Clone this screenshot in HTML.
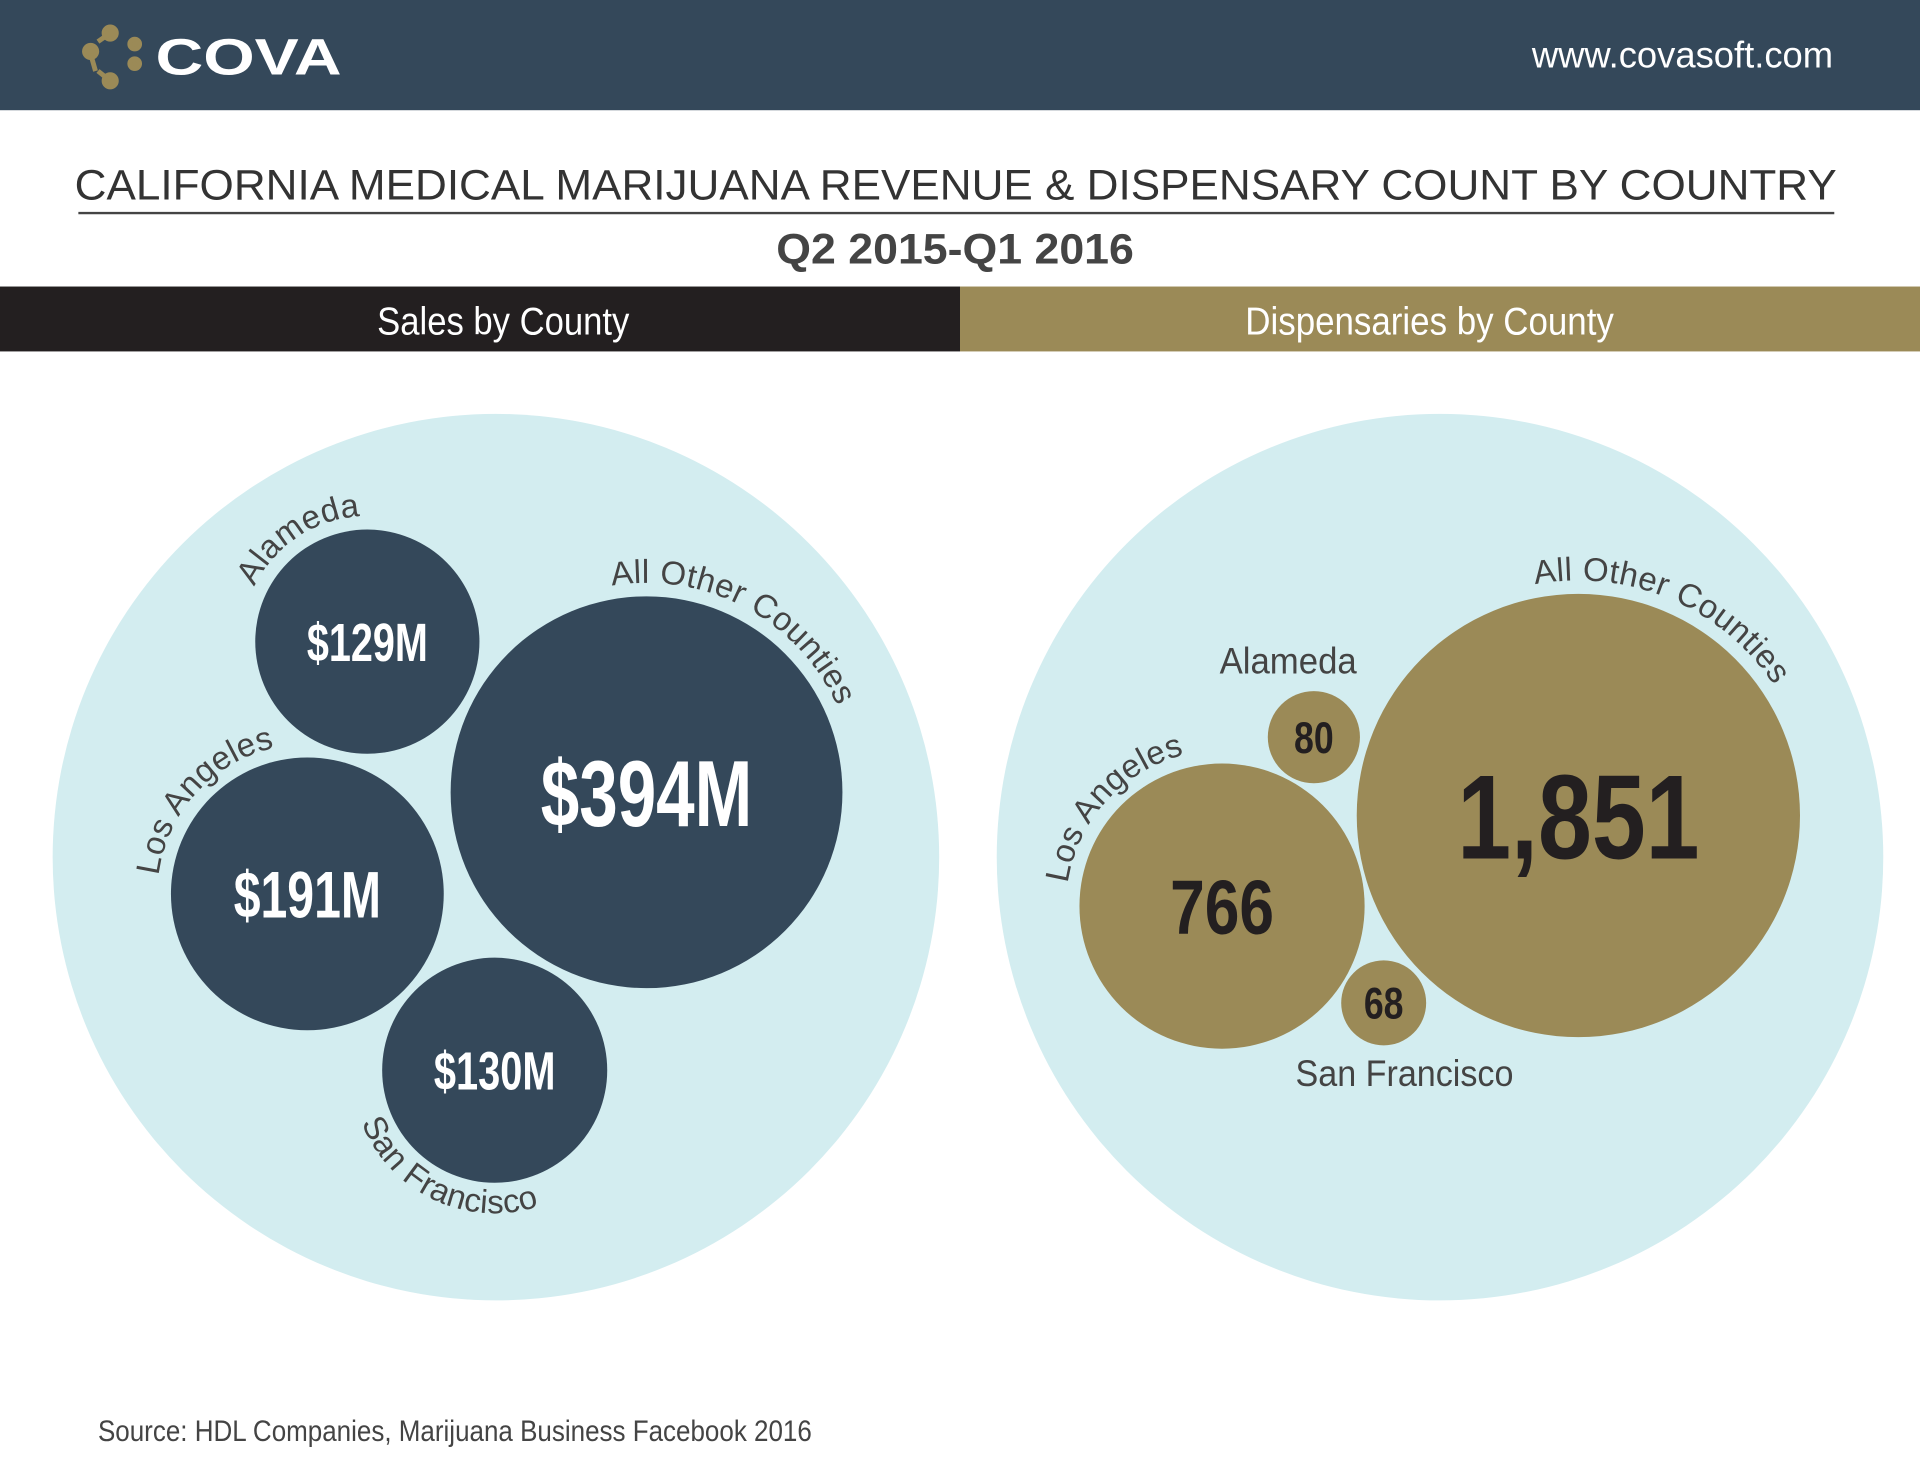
<!DOCTYPE html>
<html><head><meta charset="utf-8"><style>
html,body{margin:0;padding:0;background:#fff;width:1920px;height:1484px;overflow:hidden}
#wrap{width:1568px;height:1212px;transform:scale(1.22449);transform-origin:0 0;position:relative}
svg text{font-family:"Liberation Sans",sans-serif}
</style></head><body>
<div id="wrap">
<svg id="chart" width="1568" height="1212" viewBox="0 0 1568 1212">
  <rect x="0" y="0" width="1568" height="90" fill="#34485a"/>
  <g>
    <g fill="#9b8a57" stroke="#9b8a57" stroke-width="4">
      <circle cx="90" cy="27" r="5"/><circle cx="74" cy="42" r="5"/><circle cx="90" cy="66" r="5"/><circle cx="110" cy="36" r="4"/><circle cx="110" cy="52" r="4"/>
      <line x1="90" y1="27" x2="80" y2="34"/><line x1="74" y1="44" x2="78" y2="58"/><line x1="80" y1="58" x2="90" y2="66"/>
    </g>
    <text x="127" y="61" font-size="42" font-weight="bold" fill="#fff" textLength="152" lengthAdjust="spacingAndGlyphs">COVA</text>
  </g>
  <text x="1251" y="55" font-size="30" fill="#fff" textLength="246" lengthAdjust="spacingAndGlyphs">www.covasoft.com</text>
  <text x="61" y="163" font-size="35" fill="#333" textLength="1439" lengthAdjust="spacingAndGlyphs">CALIFORNIA MEDICAL MARIJUANA REVENUE &amp; DISPENSARY COUNT BY COUNTRY</text>
  <line x1="64" y1="174" x2="1498" y2="174" stroke="#444" stroke-width="2"/>
  <text x="634" y="215" font-size="35" font-weight="bold" fill="#444" textLength="292" lengthAdjust="spacingAndGlyphs">Q2 2015-Q1 2016</text>
  <rect x="0" y="234" width="784" height="53" fill="#231f20"/>
  <rect x="784" y="234" width="784" height="53" fill="#9b8a57"/>
  <text x="308" y="273" font-size="32" fill="#fff" textLength="206" lengthAdjust="spacingAndGlyphs">Sales by County</text>
  <text x="1017" y="273" font-size="32" fill="#fff" textLength="301" lengthAdjust="spacingAndGlyphs">Dispensaries by County</text>
  <circle cx="405" cy="700" r="362" fill="#d3edf0"/>
  <circle cx="1176" cy="700" r="362" fill="#d3edf0"/>
  <g id="bubbles"></g>
  <text x="80" y="1177" font-size="24" fill="#444" textLength="583" lengthAdjust="spacingAndGlyphs">Source: HDL Companies, Marijuana Business Facebook 2016</text>
</svg>
</div>
<script>
var counties = ["Alameda", "All Other Counties", "Los Angeles", "San Francisco"];
var salesValues = [129, 394, 191, 130];
var salesLabels = ["$129M", "$394M", "$191M", "$130M"];
var dispValues = [80, 1851, 766, 68];
var dispLabels = ["80", "1,851", "766", "68"];

var NS = "http://www.w3.org/2000/svg";
var g = document.getElementById("bubbles");
function rSales(v){ return 8.06 * Math.sqrt(v); }
function rDisp(v){ return 4.207 * Math.sqrt(v); }
var salesCenters = [[300,524],[528,647],[251,730],[404,874]];
var dispCenters = [[1073,602],[1289,666],[998,740],[1130,819]];
var salesLabelAng = [-154, -99.5, -173, 158.5];
var salesLabelDir = [1, 1, 1, -1];
var dispLabelAng = [null, -100.6, -171.6, null];
var pathId = 0;

function arcLabel(cx, cy, R, ang, dir, txt, name){
  var a = ang * Math.PI / 180;
  var x1 = cx + R * Math.cos(a), y1 = cy + R * Math.sin(a);
  var a2 = a + dir * 0.999 * Math.PI;
  var x2 = cx + R * Math.cos(a2), y2 = cy + R * Math.sin(a2);
  var p = document.createElementNS(NS, "path");
  var id = "arc" + (pathId++);
  p.setAttribute("id", id);
  p.setAttribute("d", "M" + x1 + "," + y1 + " A" + R + "," + R + " 0 0 " + (dir > 0 ? 1 : 0) + " " + x2 + "," + y2);
  p.setAttribute("fill", "none");
  g.appendChild(p);
  var t = document.createElementNS(NS, "text");
  
  
  t.setAttribute("font-size", "27");
  t.setAttribute("fill", "#444");
  t.setAttribute("letter-spacing", "0.3");
  var tp = document.createElementNS(NS, "textPath");
  tp.setAttribute("href", "#" + id);
  tp.textContent = txt;
  t.appendChild(tp);
  g.appendChild(t);
}
function plainLabel(x, y, txt, w, name){
  var t = document.createElementNS(NS, "text");
  
  
  t.setAttribute("x", x - w / 2); t.setAttribute("y", y);
  t.setAttribute("font-size", "30");
  t.setAttribute("fill", "#444");
  t.setAttribute("textLength", w);
  t.setAttribute("lengthAdjust", "spacingAndGlyphs");
  t.textContent = txt;
  g.appendChild(t);
}
function bubble(cx, cy, r, fill, label, color, factor, name){
  var c = document.createElementNS(NS, "circle");
  
  
  c.setAttribute("cx", cx); c.setAttribute("cy", cy); c.setAttribute("r", r);
  c.setAttribute("fill", fill);
  g.appendChild(c);
  var t = document.createElementNS(NS, "text");
  
  
  var fs = Math.max(36, r * factor);
  var units = 0;
  for (var k = 0; k < label.length; k++) units += (label[k] === "," ? 0.5 : 1);
  var w = fs * 0.45 * units;
  t.setAttribute("x", cx - w / 2); t.setAttribute("y", cy + fs * 0.36);
  t.setAttribute("font-size", fs);
  t.setAttribute("font-weight", "bold");
  t.setAttribute("fill", color);
  t.setAttribute("textLength", w);
  t.setAttribute("lengthAdjust", "spacingAndGlyphs");
  t.textContent = label;
  g.appendChild(t);
}
var slug = ["alameda", "all-other", "los-angeles", "san-francisco"];
for (var i = 0; i < counties.length; i++){
  var c = salesCenters[i], r = rSales(salesValues[i]);
  bubble(c[0], c[1], r, "#34485a", salesLabels[i], "#fff", 0.48, "sales-bubble-" + slug[i]);
  var R = salesLabelDir[i] > 0 ? r + 11 : r + 25;
  arcLabel(c[0], c[1], R, salesLabelAng[i], salesLabelDir[i], counties[i], "sales-label-" + slug[i]);
}
for (var j = 0; j < counties.length; j++){
  var d = dispCenters[j], rr = rDisp(dispValues[j]);
  bubble(d[0], d[1], rr, "#9b8a57", dispLabels[j], "#231f20", 0.54, "disp-bubble-" + slug[j]);
  if (dispLabelAng[j] !== null){
    arcLabel(d[0], d[1], rr + 11, dispLabelAng[j], 1, counties[j], "disp-label-" + slug[j]);
  } else if (j === 0){
    plainLabel(1052, 550, counties[j], 112, "disp-label-" + slug[j]);
  } else {
    plainLabel(1147, 887, counties[j], 178, "disp-label-" + slug[j]);
  }
}
</script>
</body></html>
